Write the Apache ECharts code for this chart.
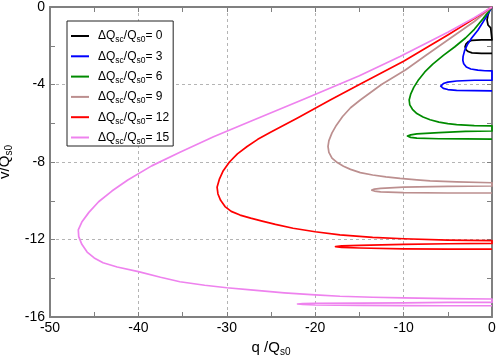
<!DOCTYPE html>
<html>
<head>
<meta charset="utf-8">
<script src="https://cdn.jsdelivr.net/npm/echarts@6/dist/echarts.min.js"></script>
<style>
html, body { margin: 0; padding: 0; background: #fff; }
#chart { width: 498px; height: 356px; }
</style>
</head>
<body>
<div id="chart"></div>
<script>
// ΔQsc/Qs0 values of the six curves
const dqValues = [0, 3, 6, 9, 12, 15]

// curve points [q/Qs0, v/Qs0]
const curve0 = [[0, 0], [-0.3, -0.2], [-0.45, -0.41], [-0.56, -0.67], [-0.45, -0.93], [-0.15, -1.08], [0, -1.1],
    [0, -1.7], [-1.2, -1.7], [-2.26, -1.72], [-2.7, -1.8], [-2.95, -1.92], [-3.05, -2.05], [-2.95, -2.2], [-2.7, -2.3], [-2.26, -2.37], [-1.2, -2.39], [0, -2.39]]
const curve3 = [[0, 0], [-0.7, -0.55], [-1.6, -1.2], [-2.3, -1.6], [-2.8, -1.95], [-3.1, -2.25], [-3.27, -2.55], [-3.3, -2.75], [-3.2, -2.93], [-2.9, -3.1],
    [-2.4, -3.2], [-1.6, -3.26], [-0.8, -3.29], [0, -3.3],
    [0, -3.77], [-2, -3.78], [-4, -3.82], [-5.0, -3.88], [-5.5, -3.95], [-5.8, -4.08], [-5.5, -4.2], [-5.0, -4.26], [-4, -4.3], [-2, -4.32], [0, -4.33]]
const curve6 = [[0, 0], [-1.0, -0.6], [-2.0, -1.15], [-3.0, -1.6], [-4.2, -2.05], [-5.5, -2.5], [-6.7, -2.95], [-7.6, -3.35], [-8.3, -3.75], [-8.85, -4.15],
    [-9.2, -4.5], [-9.37, -4.8], [-9.3, -5.05], [-9.0, -5.28], [-8.5, -5.5], [-7.8, -5.68], [-7.0, -5.82], [-6.0, -5.94], [-5.0, -6.02], [-4, -6.07], [-2, -6.12], [0, -6.14],
    [0, -6.4], [-3, -6.42], [-6, -6.48], [-8.5, -6.55], [-9.2, -6.6], [-9.57, -6.66], [-9.2, -6.73], [-8.5, -6.77], [-6, -6.8], [-3, -6.81], [0, -6.82]]
const curve9 = [[0, 0], [-2, -0.75], [-5, -1.7], [-7.5, -2.5], [-9.8, -3.25], [-12.5, -4.0], [-14.9, -4.8], [-16.0, -5.2], [-16.9, -5.65], [-17.6, -6.1],
    [-18.1, -6.5], [-18.45, -6.9], [-18.55, -7.2], [-18.45, -7.5], [-18.1, -7.8], [-17.5, -8.03], [-16.8, -8.22], [-16, -8.38], [-14.9, -8.55], [-13.5, -8.67],
    [-12, -8.77], [-10.4, -8.85], [-8.5, -8.92], [-7, -8.97], [-4, -9.03], [0, -9.07],
    [0, -9.24], [-5, -9.26], [-10, -9.3], [-12.6, -9.36], [-13.3, -9.4], [-13.6, -9.45], [-13.3, -9.5], [-12.6, -9.54], [-10, -9.58], [-5, -9.6], [0, -9.6]]
const curve12 = [[0, 0], [-2, -0.6], [-5, -1.45], [-10, -2.8], [-15, -4.0], [-18.3, -4.8], [-22, -5.73], [-25, -6.45], [-26.5, -6.83], [-27.7, -7.2],
    [-28.8, -7.58], [-29.7, -8.0], [-30.4, -8.45], [-30.85, -8.9], [-31.1, -9.3], [-31.0, -9.65], [-30.7, -9.98], [-30.2, -10.3], [-29.5, -10.55], [-28.5, -10.74],
    [-27.3, -10.9], [-26, -11.05], [-24.5, -11.22], [-22.5, -11.42], [-20, -11.6], [-17.2, -11.76], [-13.5, -11.89], [-10, -11.96], [-5, -12.03], [0, -12.06],
    [0, -12.2], [-5, -12.22], [-10, -12.25], [-15, -12.3], [-17.0, -12.33], [-17.7, -12.37], [-17.0, -12.41], [-15, -12.44], [-10, -12.48], [-5, -12.5], [0, -12.5]]
const curve15 = [[0, 0], [-2, -0.55], [-5, -1.3], [-10.4, -2.55], [-15, -3.55], [-21.1, -4.72], [-27.3, -5.9], [-31.5, -6.7], [-35.3, -7.5], [-38.5, -8.2],
    [-41.2, -8.93], [-43, -9.5], [-44.5, -10.05], [-45.6, -10.6], [-46.4, -11.1], [-46.8, -11.5], [-46.75, -11.85], [-46.4, -12.25], [-45.8, -12.65], [-45.0, -12.95],
    [-44.0, -13.2], [-42.4, -13.42], [-40, -13.66], [-37.5, -13.95], [-35.3, -14.18], [-32.5, -14.36], [-30, -14.49], [-27.3, -14.6], [-23.5, -14.75], [-20, -14.86],
    [-17.2, -14.93], [-13.5, -14.98], [-10, -15.01], [-5, -15.05], [0, -15.07],
    [0, -15.24], [-5, -15.25], [-10, -15.27], [-15, -15.28], [-20, -15.29], [-21.4, -15.31], [-22, -15.33], [-21.4, -15.35], [-20, -15.38], [-15, -15.4], [-10, -15.41], [-5, -15.42], [0, -15.42]]
const curves = [curve0, curve3, curve6, curve9, curve12, curve15]

const colors = ['#000000', '#0000ff', '#008b00', '#bc8f8f', '#ff0000', '#ee82ee']
const font = 'Liberation Sans, Arial, sans-serif'

let seriesList = []
for (let i = 0; i < curves.length; i++) {
    seriesList.push({
        name: 'dq' + dqValues[i],
        type: 'line',
        data: curves[i],
        symbol: 'none',
        smooth: false,
        lineStyle: { width: 1.7, color: colors[i], join: 'round' },
        itemStyle: { color: colors[i] }
    })
}

const axisLineStyle = { show: true, onZero: false, lineStyle: { color: '#808080', width: 2 } }
const gridLineStyle = { show: true, lineStyle: { color: '#b4b4b4', type: [3, 3], width: 1 } }
const tickStyle = { show: true, inside: true, length: 5, lineStyle: { color: '#808080', width: 1 } }
const minorStyle = { show: true, splitNumber: 2, length: 5, lineStyle: { color: '#808080', width: 1 } }

let option = {
    animation: false,
    textStyle: { fontFamily: font },
    grid: { left: 50, right: 6, top: 7, bottom: 39, outerBoundsMode: 'none' },
    legend: {
        orient: 'vertical',
        left: 67,
        top: 21,
        padding: [7, 4, 0, 4],
        icon: 'rect',
        itemWidth: 18,
        itemHeight: 2,
        itemGap: 3.8,
        borderColor: '#222',
        borderWidth: 1,
        backgroundColor: '#fff',
        data: dqValues.map(v => 'dq' + v),
        formatter: name => '{p|ΔQ}{s|sc}{a|/Q}{s|s0}{a|= ' + name.slice(2) + '}',
        textStyle: {
            fontFamily: font,
            lineHeight: 16,
            rich: {
                p: { fontSize: 12, color: '#000', padding: [0, 0, 0, 4] },
                a: { fontSize: 12, color: '#000' },
                s: { fontSize: 8.5, color: '#000', padding: [8, 0, 0, 0] }
            }
        }
    },
    xAxis: [{
        type: 'value',
        min: -50, max: 0, interval: 10,
        name: '{a|q /Q}{s|s0}',
        nameLocation: 'middle',
        nameGap: 20,
        nameTextStyle: {
            rich: {
                a: { fontSize: 15, color: '#000', fontFamily: font },
                s: { fontSize: 10, color: '#000', fontFamily: font, padding: [9, 0, 0, 0] }
            }
        },
        axisLine: axisLineStyle,
        axisTick: tickStyle,
        minorTick: minorStyle,
        splitLine: gridLineStyle,
        axisLabel: { color: '#000', fontSize: 14, margin: 4, fontFamily: font }
    }, {
        type: 'value',
        position: 'top',
        min: -50, max: 0, interval: 10,
        axisLine: axisLineStyle,
        axisTick: tickStyle,
        minorTick: minorStyle,
        splitLine: { show: false },
        axisLabel: { show: false }
    }],
    yAxis: [{
        type: 'value',
        min: -16, max: 0, interval: 4,
        name: '{a|v/Q}{s|s0}',
        nameLocation: 'middle',
        nameGap: 31,
        nameTextStyle: {
            rich: {
                a: { fontSize: 15, color: '#000', fontFamily: font },
                s: { fontSize: 10, color: '#000', fontFamily: font, padding: [9, 0, 0, 0] }
            }
        },
        axisLine: axisLineStyle,
        axisTick: tickStyle,
        minorTick: minorStyle,
        splitLine: gridLineStyle,
        axisLabel: { color: '#000', fontSize: 14, margin: 5, fontFamily: font }
    }, {
        type: 'value',
        position: 'right',
        min: -16, max: 0, interval: 4,
        axisLine: axisLineStyle,
        axisTick: tickStyle,
        minorTick: minorStyle,
        splitLine: { show: false },
        axisLabel: { show: false }
    }],
    series: seriesList
}

let myChart = echarts.init(document.getElementById('chart'))
myChart.setOption(option)
</script>
</body>
</html>
